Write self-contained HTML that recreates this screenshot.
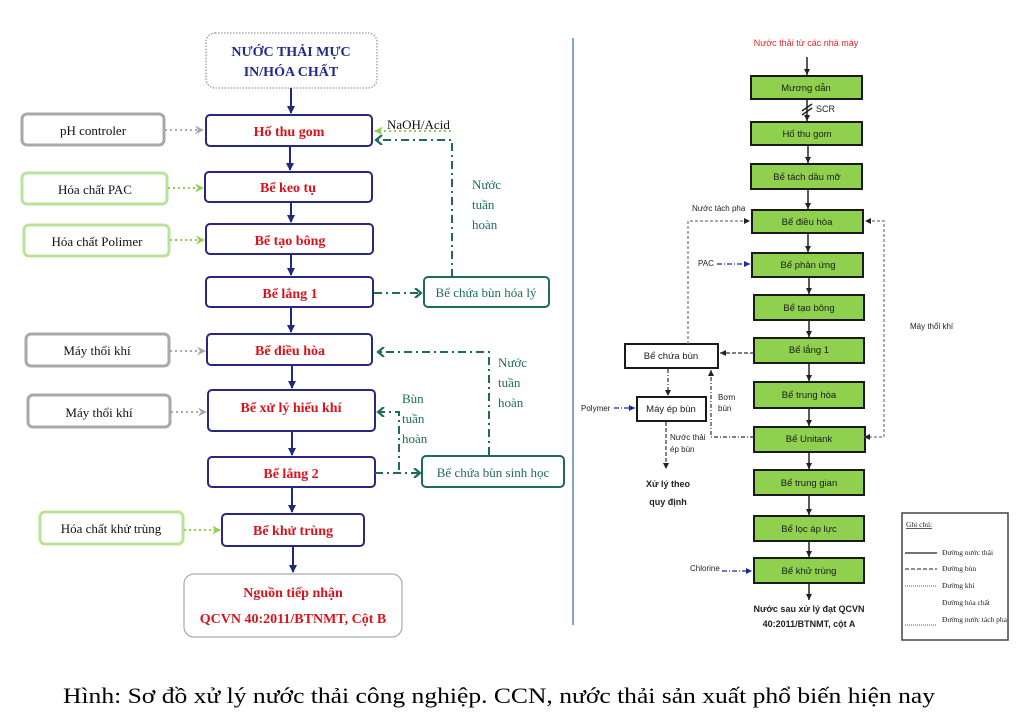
<!DOCTYPE html>
<html><head><meta charset="utf-8"><style>
html,body{margin:0;padding:0;background:#fff;}
svg{display:block;}
.t{font-family:"Liberation Serif","DejaVu Serif",serif;}
.s{font-family:"Liberation Sans","DejaVu Sans",sans-serif;}
</style></head><body>
<svg width="1017" height="727" viewBox="0 0 1017 727" xmlns="http://www.w3.org/2000/svg">
<defs>
<marker id="an" markerWidth="8" markerHeight="8" refX="7" refY="4" orient="auto" markerUnits="userSpaceOnUse"><path d="M0,0 L8,4 L0,8 z" fill="#1f2a7a"/></marker>
<marker id="ag" markerWidth="9" markerHeight="9" refX="8" refY="4.5" orient="auto" markerUnits="userSpaceOnUse"><path d="M0,0 L9,4.5 L0,9 L3,4.5 z" fill="#a8a8a8"/></marker>
<marker id="agr" markerWidth="9" markerHeight="9" refX="8" refY="4.5" orient="auto" markerUnits="userSpaceOnUse"><path d="M0,0 L9,4.5 L0,9 L3,4.5 z" fill="#8fd14f"/></marker>
<marker id="att" markerWidth="10" markerHeight="10" refX="8" refY="5" orient="auto" markerUnits="userSpaceOnUse"><path d="M2,0 L8,5 L2,10" fill="none" stroke="#1e6b5e" stroke-width="2.2"/></marker>
<marker id="ab" markerWidth="6" markerHeight="6" refX="6" refY="3" orient="auto" markerUnits="userSpaceOnUse"><path d="M0,0 L6,3 L0,6 z" fill="#222"/></marker>
<marker id="abs" markerWidth="6" markerHeight="6" refX="0" refY="3" orient="auto" markerUnits="userSpaceOnUse"><path d="M6,0 L0,3 L6,6 z" fill="#222"/></marker>
<marker id="abl" markerWidth="6" markerHeight="6" refX="6" refY="3" orient="auto" markerUnits="userSpaceOnUse"><path d="M0,0 L6,3 L0,6 z" fill="#1a2a9a"/></marker>
</defs>

<!-- LEFT DIAGRAM -->
<rect x="206" y="33" width="171" height="55" rx="9" fill="#fff" stroke="#999" stroke-width="1.3" stroke-dasharray="1.5,1.5"/>
<text class="t" x="291" y="56" text-anchor="middle" font-size="14" font-weight="bold" fill="#1f2a8a">NƯỚC THẢI MỰC</text>
<text class="t" x="291" y="76" text-anchor="middle" font-size="14" font-weight="bold" fill="#1f2a8a">IN/HÓA CHẤT</text>

<g fill="none" stroke="#1f2a7a" stroke-width="2">
<line x1="291" y1="88" x2="291" y2="113" marker-end="url(#an)"/>
<line x1="290" y1="146" x2="290" y2="170" marker-end="url(#an)"/>
<line x1="291" y1="202" x2="291" y2="222" marker-end="url(#an)"/>
<line x1="291" y1="254" x2="291" y2="275" marker-end="url(#an)"/>
<line x1="291" y1="307" x2="291" y2="332" marker-end="url(#an)"/>
<line x1="292" y1="365" x2="292" y2="388" marker-end="url(#an)"/>
<line x1="292" y1="431" x2="292" y2="455" marker-end="url(#an)"/>
<line x1="292" y1="488" x2="292" y2="512" marker-end="url(#an)"/>
<line x1="293" y1="546" x2="293" y2="572" marker-end="url(#an)"/>
</g>

<g fill="#fff" stroke="#28287e" stroke-width="2">
<rect x="206" y="115" width="166" height="31" rx="4"/>
<rect x="205" y="172" width="167" height="30" rx="4"/>
<rect x="206" y="224" width="167" height="30" rx="4"/>
<rect x="206" y="277" width="167" height="30" rx="4"/>
<rect x="207" y="334" width="165" height="31" rx="4"/>
<rect x="208" y="390" width="167" height="41" rx="4"/>
<rect x="208" y="457" width="167" height="30" rx="4"/>
<rect x="222" y="514" width="142" height="32" rx="4"/>
</g>
<g class="t" font-size="14" font-weight="bold" fill="#d7141c" text-anchor="middle">
<text x="289" y="136">Hố thu gom</text>
<text x="288" y="192">Bể keo tụ</text>
<text x="290" y="245">Bể tạo bông</text>
<text x="290" y="298">Bể lắng 1</text>
<text x="290" y="355">Bể điều hòa</text>
<text x="291" y="412">Bể xử lý hiếu khí</text>
<text x="291" y="478">Bể lắng 2</text>
<text x="293" y="535">Bể khử trùng</text>
</g>
<rect x="184" y="574" width="218" height="63" rx="10" fill="#fff" stroke="#aaa" stroke-width="1.2"/>
<text class="t" x="293" y="597" text-anchor="middle" font-size="14" font-weight="bold" fill="#d7141c">Nguồn tiếp nhận</text>
<text class="t" x="293" y="623" text-anchor="middle" font-size="14" font-weight="bold" fill="#d7141c">QCVN 40:2011/BTNMT, Cột B</text>

<!-- left inputs -->
<g fill="#fff" stroke-width="3">
<rect x="22" y="114" width="142" height="31" rx="5" stroke="#a9a9a9"/>
<rect x="22" y="173" width="145" height="31" rx="5" stroke="#b9e39a"/>
<rect x="24" y="225" width="145" height="31" rx="5" stroke="#b9e39a"/>
<rect x="26" y="334" width="143" height="32" rx="5" stroke="#a9a9a9"/>
<rect x="28" y="395" width="142" height="32" rx="5" stroke="#a9a9a9"/>
<rect x="40" y="512" width="143" height="32" rx="5" stroke="#b9e39a"/>
</g>
<g class="t" font-size="13" fill="#111" text-anchor="middle">
<text x="93" y="135">pH controler</text>
<text x="95" y="194">Hóa chất PAC</text>
<text x="97" y="246">Hóa chất Polimer</text>
<text x="97" y="355">Máy thổi khí</text>
<text x="99" y="417">Máy thổi khí</text>
<text x="111" y="533">Hóa chất khử trùng</text>
</g>
<g fill="none" stroke-width="2" stroke-dasharray="2,3">
<line x1="165" y1="130" x2="203" y2="130" stroke="#a8a8a8" marker-end="url(#ag)"/>
<line x1="168" y1="188" x2="203" y2="188" stroke="#8fd14f" marker-end="url(#agr)"/>
<line x1="170" y1="240" x2="204" y2="240" stroke="#8fd14f" marker-end="url(#agr)"/>
<line x1="170" y1="351" x2="205" y2="351" stroke="#a8a8a8" marker-end="url(#ag)"/>
<line x1="171" y1="412" x2="206" y2="412" stroke="#a8a8a8" marker-end="url(#ag)"/>
<line x1="184" y1="530" x2="220" y2="530" stroke="#8fd14f" marker-end="url(#agr)"/>
<line x1="451" y1="131" x2="375" y2="131" stroke="#8fd14f" marker-end="url(#agr)"/>
</g>
<text class="t" x="387" y="129" font-size="13" fill="#111">NaOH/Acid</text>

<!-- teal recirculation -->
<g fill="none" stroke="#1e6b5e" stroke-width="2" stroke-dasharray="8,4,2,4">
<polyline points="452,277 452,140 376,140" marker-end="url(#att)"/>
<line x1="374" y1="293" x2="421" y2="293" marker-end="url(#att)"/>
<polyline points="489,455 489,352 378,352" marker-end="url(#att)"/>
<polyline points="399,470 399,412 378,412" marker-end="url(#att)"/>
<line x1="375" y1="473" x2="420" y2="473" marker-end="url(#att)"/>
</g>
<g fill="#fff" stroke="#1e6b5e" stroke-width="2">
<rect x="424" y="277" width="125" height="30" rx="4"/>
<rect x="422" y="456" width="142" height="31" rx="4"/>
</g>
<g class="t" font-size="13" fill="#1e6b5e">
<text x="486" y="297" text-anchor="middle">Bể chứa bùn hóa lý</text>
<text x="493" y="477" text-anchor="middle">Bể chứa bùn sinh học</text>
<text x="472" y="189">Nước</text><text x="472" y="209">tuần</text><text x="472" y="229">hoàn</text>
<text x="498" y="367">Nước</text><text x="498" y="387">tuần</text><text x="498" y="407">hoàn</text>
<text x="402" y="403">Bùn</text><text x="402" y="423">tuần</text><text x="402" y="443">hoàn</text>
</g>

<!-- divider -->
<line x1="573" y1="38" x2="573" y2="625" stroke="#5b84b8" stroke-width="1.5"/>

<!-- RIGHT DIAGRAM -->
<text class="s" x="806" y="46" text-anchor="middle" font-size="9" fill="#ee2222">Nước thải từ các nhà máy</text>
<g stroke="#222" stroke-width="1.5" fill="none">
<line x1="807" y1="57" x2="807" y2="75" marker-end="url(#ab)"/>
<line x1="807" y1="99" x2="807" y2="121" marker-end="url(#ab)"/>
<line x1="802" y1="111" x2="812" y2="104"/><line x1="802" y1="115" x2="812" y2="108"/>
<line x1="808" y1="145" x2="808" y2="163" marker-end="url(#ab)"/>
<line x1="808" y1="189" x2="808" y2="209" marker-end="url(#ab)"/>
<line x1="808" y1="233" x2="808" y2="252" marker-end="url(#ab)"/>
<line x1="809" y1="277" x2="809" y2="294" marker-end="url(#ab)"/>
<line x1="809" y1="320" x2="809" y2="337" marker-end="url(#ab)"/>
<line x1="809" y1="363" x2="809" y2="381" marker-end="url(#ab)"/>
<line x1="809" y1="408" x2="809" y2="426" marker-end="url(#ab)"/>
<line x1="809" y1="452" x2="809" y2="469" marker-end="url(#ab)"/>
<line x1="809" y1="495" x2="809" y2="515" marker-end="url(#ab)"/>
<line x1="809" y1="541" x2="809" y2="557" marker-end="url(#ab)"/>
<line x1="809" y1="583" x2="809" y2="600" marker-end="url(#ab)"/>
</g>
<text class="s" x="816" y="112" font-size="9" fill="#222">SCR</text>
<g fill="#8fd14f" stroke="#1a1a1a" stroke-width="2">
<rect x="751" y="76" width="111" height="23"/>
<rect x="751" y="122" width="111" height="23"/>
<rect x="751" y="164" width="111" height="25"/>
<rect x="752" y="210" width="111" height="23"/>
<rect x="752" y="253" width="111" height="24"/>
<rect x="754" y="295" width="110" height="25"/>
<rect x="754" y="338" width="110" height="25"/>
<rect x="754" y="382" width="110" height="26"/>
<rect x="754" y="427" width="111" height="25"/>
<rect x="754" y="470" width="110" height="25"/>
<rect x="754" y="516" width="110" height="25"/>
<rect x="754" y="558" width="110" height="25"/>
</g>
<g class="s" font-size="9.5" fill="#1a1a1a" text-anchor="middle">
<text x="806" y="91">Mương dẫn</text>
<text x="807" y="137">Hố thu gom</text>
<text x="807" y="180">Bể tách dầu mỡ</text>
<text x="807" y="225">Bể điều hòa</text>
<text x="808" y="268">Bể phản ứng</text>
<text x="809" y="311">Bể tạo bông</text>
<text x="809" y="353">Bể lắng 1</text>
<text x="809" y="398">Bể trung hòa</text>
<text x="809" y="442">Bể Unitank</text>
<text x="809" y="486">Bể trung gian</text>
<text x="809" y="532">Bể lọc áp lực</text>
<text x="809" y="574">Bể khử trùng</text>
</g>
<g class="s" font-size="9" font-weight="bold" fill="#222" text-anchor="middle">
<text x="809" y="612">Nước sau xử lý đạt QCVN</text>
<text x="809" y="627">40:2011/BTNMT, cột A</text>
<text x="668" y="487">Xử lý theo</text>
<text x="668" y="505">quy định</text>
</g>

<!-- sludge side -->
<rect x="625" y="344" width="93" height="24" fill="#fff" stroke="#1a1a1a" stroke-width="2"/>
<rect x="637" y="397" width="69" height="24" fill="#fff" stroke="#1a1a1a" stroke-width="2"/>
<text class="s" x="671" y="359" text-anchor="middle" font-size="9.5" fill="#1a1a1a">Bể chứa bùn</text>
<text class="s" x="671" y="412" text-anchor="middle" font-size="9.5" fill="#1a1a1a">Máy ép bùn</text>
<g fill="none" stroke="#333" stroke-width="1.2">
<line x1="754" y1="353" x2="720" y2="353" stroke-dasharray="4,2" marker-end="url(#ab)"/>
<line x1="668" y1="369" x2="668" y2="396" stroke-dasharray="4,2,1,2" marker-end="url(#ab)"/>
<polyline points="754,437 711,437 711,370" stroke-dasharray="4,2,1,2" marker-end="url(#ab)"/>
<line x1="666" y1="422" x2="666" y2="469" stroke-dasharray="4,2" marker-end="url(#ab)"/>
<polyline points="688,344 688,221 750,221" stroke="#777" stroke-dasharray="3,2" marker-end="url(#ab)"/>
<polyline points="864,437 884,437 884,221 865,221" stroke="#777" stroke-dasharray="3,2" marker-start="url(#abs)" marker-end="url(#ab)"/>
</g>
<g fill="none" stroke="#1a2a9a" stroke-width="1.2" stroke-dasharray="5,2,1,2">
<line x1="717" y1="264" x2="750" y2="264" marker-end="url(#abl)"/>
<line x1="614" y1="408" x2="635" y2="408" marker-end="url(#abl)"/>
<line x1="722" y1="571" x2="752" y2="571" marker-end="url(#abl)"/>
</g>
<g class="s" font-size="8" fill="#222">
<text x="692" y="211">Nước tách pha</text>
<text x="698" y="266">PAC</text>
<text x="581" y="411">Polymer</text>
<text x="690" y="571">Chlorine</text>
<text x="718" y="400">Bơm</text><text x="718" y="411">bùn</text>
<text x="670" y="440">Nước thải</text><text x="670" y="452">ép bùn</text>
<text x="910" y="329">Máy thổi khí</text>
</g>

<!-- legend -->
<rect x="902" y="513" width="106" height="127" fill="#fff" stroke="#444" stroke-width="1.5"/>
<g class="t" font-size="7.5" fill="#222">
<text x="906" y="527" text-decoration="underline">Ghi chú:</text>
<text x="942" y="555">Đường nước thải</text>
<text x="942" y="571">Đường bùn</text>
<text x="942" y="588">Đường khí</text>
<text x="942" y="605">Đường hóa chất</text>
<text x="942" y="622">Đường nước tách pha</text>
</g>
<g stroke="#222" fill="none">
<line x1="905" y1="553" x2="937" y2="553" stroke-width="1.3"/>
<line x1="905" y1="569" x2="937" y2="569" stroke-dasharray="4,2"/>
<line x1="905" y1="586" x2="937" y2="586" stroke-dasharray="1,1" stroke-width="0.8"/>
<line x1="905" y1="625" x2="937" y2="625" stroke-dasharray="1,1" stroke-width="0.8"/>
</g>

<!-- caption -->
<text class="t" x="63" y="703" font-size="22" fill="#000" textLength="872" lengthAdjust="spacingAndGlyphs">Hình: Sơ đồ xử lý nước thải công nghiệp. CCN, nước thải sản xuất phổ biến hiện nay</text>
</svg>
</body></html>
